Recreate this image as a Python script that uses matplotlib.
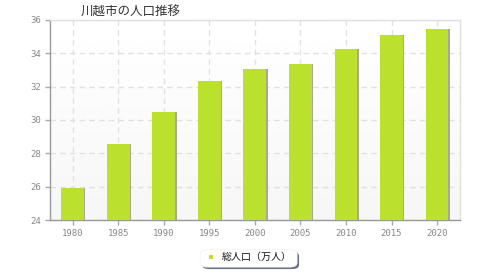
import numpy as np
import matplotlib
matplotlib.use("Agg")
import matplotlib.pyplot as plt
from matplotlib.patches import FancyBboxPatch, Rectangle

plt.rcParams['font.family'] = ['Noto Sans CJK JP', 'DejaVu Sans']

# data (万人)
years = ["1980", "1985", "1990", "1995", "2000", "2005", "2010", "2015", "2020"]
population = [25.93, 28.54, 30.49, 32.34, 33.08, 33.38, 34.27, 35.07, 35.46]
y_ticks = [24, 26, 28, 30, 32, 34, 36]
title = "川越市の人口推移"
series_name = "総人口（万人）"

bar_color = "#bce02e"

fig = plt.figure(figsize=(4.8, 2.8), dpi=100)
ax = fig.add_axes([0.104, 0.214, 0.854, 0.715])

# light gradient background in plot area
grad = np.linspace(1.0, 0.965, 100).reshape(-1, 1)
ax.imshow(grad, extent=[-0.5, len(years) - 0.5, 24, 36], aspect="auto",
          cmap="gray", vmin=0, vmax=1, zorder=0, origin="upper")

x = np.arange(len(years))
# shadow
ax.bar(x + 0.03, [p - 24 for p in population], bottom=24, width=0.5,
       color="#a8a890", zorder=2)
ax.bar(x, [p - 24 for p in population], bottom=24, width=0.5,
       color=bar_color, zorder=3)

ax.set_xlim(-0.5, len(years) - 0.5)
ax.set_ylim(24, 36)
ax.set_xticks(x)
ax.set_xticklabels(years)
ax.set_yticks(y_ticks)

ax.grid(True, color="#e2e2e2", linestyle=(0, (4, 3)), linewidth=1)
ax.set_axisbelow(True)

for s in ["left", "bottom"]:
    ax.spines[s].set_color("#999999")
    ax.spines[s].set_linewidth(1)
for s in ["top", "right"]:
    ax.spines[s].set_color("#e0e0e0")
    ax.spines[s].set_linewidth(1)

ax.tick_params(axis="both", colors="#aaaaaa", labelcolor="#888888",
               labelsize=6.5, length=3.6, width=1)
ax.tick_params(axis="x", pad=3)
ax.tick_params(axis="y", pad=3)
for lab in ax.get_xticklabels() + ax.get_yticklabels():
    lab.set_family("DejaVu Sans Mono")

fig.text(0.167, 0.958, title, fontsize=9, color="#333333", va="center")

# legend box with shadow
box = FancyBboxPatch((0.421, 0.039), 0.202, 0.062,
                     boxstyle="round,pad=0,rounding_size=0.015",
                     transform=fig.transFigure, facecolor="#6a6f85",
                     edgecolor="none", zorder=1)
fig.patches.append(box)
box2 = FancyBboxPatch((0.417, 0.046), 0.202, 0.062,
                      boxstyle="round,pad=0,rounding_size=0.015",
                      transform=fig.transFigure, facecolor="white",
                      edgecolor="#f0f0f0", linewidth=0.5, zorder=2)
fig.patches.append(box2)
fig.patches.append(Rectangle((0.436, 0.075), 0.0085, 0.0145,
                             transform=fig.transFigure, facecolor=bar_color,
                             edgecolor="none", zorder=3))
fig.text(0.461, 0.082, series_name, fontsize=7.2, color="#111111",
         va="center", zorder=4)

fig.savefig("out.png", dpi=100)
